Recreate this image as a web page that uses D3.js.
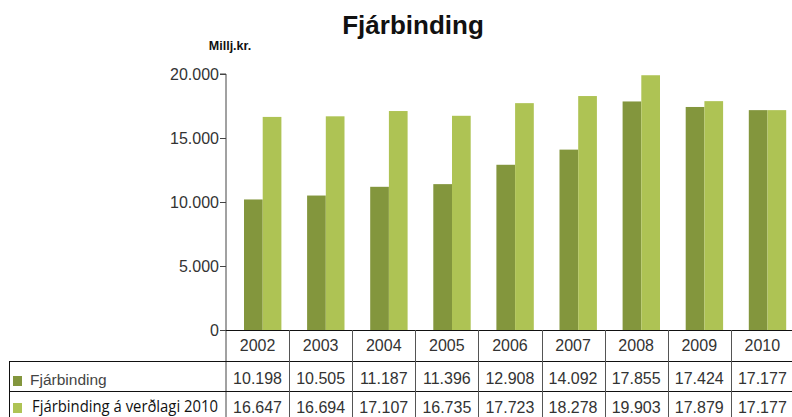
<!DOCTYPE html>
<html><head><meta charset="utf-8">
<script src="https://cdn.jsdelivr.net/npm/d3@7"></script>
<style>body{margin:0;background:#fff}svg{display:block}</style>
</head><body>
<svg id="c" width="792" height="417"></svg>
<script>
const years = ["2002","2003","2004","2005","2006","2007","2008","2009","2010"];
const fjarbinding = [10198,10505,11187,11396,12908,14092,17855,17424,17177];
const verdlag2010 = [16647,16694,17107,16735,17723,18278,19903,17879,17177];
const yTicks = [0,5000,10000,15000,20000];
const seriesNames = ["Fjárbinding","Fjárbinding á verðlagi 2010"];
const colors = ["#83963d","#aec354"];

const fmt = v => d3.format(",")(v).replace(/,/g,".");
const svg = d3.select("#c");
const tf = "'Liberation Sans', Arial, sans-serif";
const x0 = 226, colW = 63.1;
const x = d3.scaleBand().domain(years).range([x0, x0 + colW*years.length]).padding(0);
const y = d3.scaleLinear().domain([0,20000]).range([330,74]);
const barW = 18.7, barOff = 18;

// title
svg.append("text").attr("x",413).attr("y",34).attr("text-anchor","middle")
  .style("font-family",tf).attr("font-weight","bold")
  .attr("font-size",26).attr("fill","#111").text("Fjárbinding");
svg.append("text").attr("x",230).attr("y",50).attr("text-anchor","middle")
  .style("font-family",tf).attr("font-weight","bold")
  .attr("font-size",12.5).attr("fill","#111").text("Millj.kr.");

// bars
const series = [fjarbinding, verdlag2010];
series.forEach((s,si)=>{
  svg.append("g").selectAll("rect").data(s).join("rect")
    .attr("x",(d,i)=>x(years[i]) + barOff + si*barW)
    .attr("width",barW)
    .attr("y",d=>y(d)).attr("height",d=>y(0)-y(d))
    .attr("fill",colors[si]);
});

// y axis
const ax = svg.append("g").attr("transform",`translate(${x0},0)`)
  .call(d3.axisLeft(y).tickValues(yTicks).tickFormat(fmt).tickSize(6).tickPadding(1));
ax.select(".domain").attr("stroke","#444").attr("d",`M-6,${y(20000)}H0V417`);
ax.selectAll(".tick line").attr("stroke","#444");
ax.selectAll(".tick text").style("font-family",tf)
  .attr("font-size",16).attr("fill","#333");

// table
const g = svg.append("g");
const right = 792;
g.append("line").attr("x1",x0).attr("x2",right).attr("y1",330.5).attr("y2",330.5).attr("stroke","#111");
g.append("line").attr("x1",9).attr("x2",right).attr("y1",361.5).attr("y2",361.5).attr("stroke","#111");
g.append("line").attr("x1",9).attr("x2",right).attr("y1",391.5).attr("y2",391.5).attr("stroke","#111");
g.append("line").attr("x1",9.5).attr("x2",9.5).attr("y1",361.5).attr("y2",417).attr("stroke","#111");
years.forEach((yr,i)=>{
  if(i>0) g.append("line").attr("x1",Math.round(x(yr))+0.5).attr("x2",Math.round(x(yr))+0.5)
    .attr("y1",330).attr("y2",417).attr("stroke","#555");
  const cx = x(yr)+x.bandwidth()/2;
  g.append("text").attr("x",cx).attr("y",351).attr("text-anchor","middle")
    .style("font-family",tf).attr("font-size",16).attr("fill","#333").text(yr);
  g.append("text").attr("x",cx).attr("y",384).attr("text-anchor","middle")
    .style("font-family",tf).attr("font-size",16).attr("fill","#333").text(fmt(fjarbinding[i]));
  g.append("text").attr("x",cx).attr("y",413).attr("text-anchor","middle")
    .style("font-family",tf).attr("font-size",16).attr("fill","#333").text(fmt(verdlag2010[i]));
});
// legend labels
g.append("rect").attr("x",13).attr("y",376).attr("width",9).attr("height",10).attr("fill",colors[0]);
g.append("text").attr("x",30).attr("y",385).style("font-family",tf).attr("font-size",15.5)
  .attr("fill","#444").text(seriesNames[0]);
g.append("rect").attr("x",13).attr("y",403).attr("width",9).attr("height",10).attr("fill",colors[1]);
g.append("text").attr("x",32).attr("y",412).style("font-family","'Open Sans', Lato, sans-serif")
  .attr("font-size",15.5).attr("font-weight",500).attr("fill","#111")
  .attr("textLength",186).attr("lengthAdjust","spacingAndGlyphs").text(seriesNames[1]);
</script>
</body></html>
